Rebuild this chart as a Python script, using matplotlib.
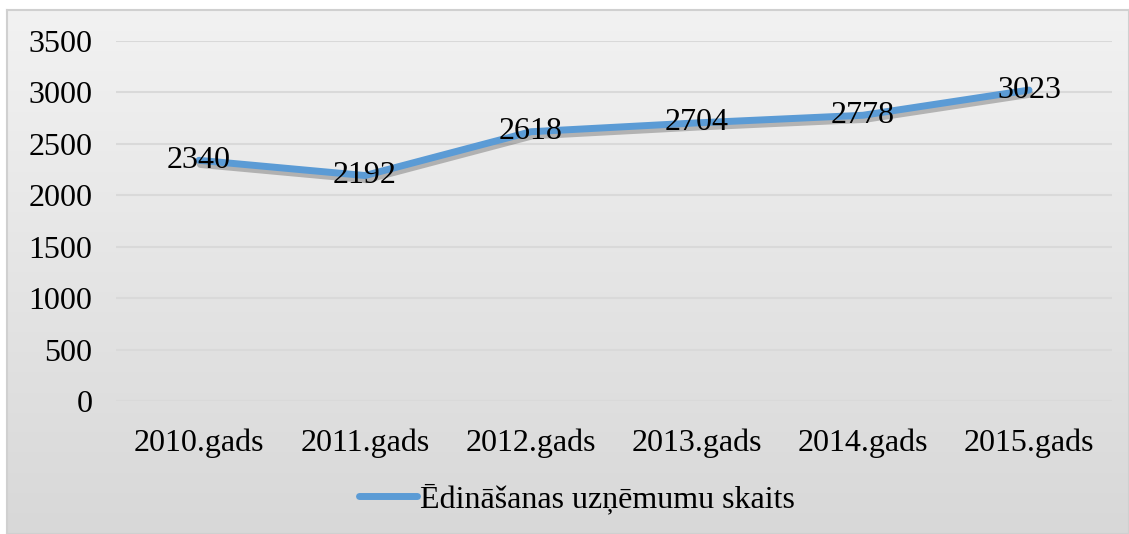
import numpy as np
import matplotlib.pyplot as plt
import matplotlib.patheffects as pe

plt.rcParams['font.family'] = ['Liberation Serif', 'DejaVu Serif']

years = ['2010.gads', '2011.gads', '2012.gads', '2013.gads', '2014.gads', '2015.gads']
counts = [2340, 2192, 2618, 2704, 2778, 3023]
series_name = 'Ēdināšanas uzņēmumu skaits'
yticks = [0, 500, 1000, 1500, 2000, 2500, 3000, 3500]

W, H = 1129, 534
fig = plt.figure(figsize=(W / 100, H / 100), dpi=100)
fig.patch.set_facecolor('white')

# chart area background with vertical gradient
bg = fig.add_axes([7 / W, 0, 1 - 7 / W, 1 - 10 / H])
grad = np.linspace(0, 1, 256).reshape(-1, 1)
bg.imshow(grad, aspect='auto', cmap=plt.matplotlib.colors.LinearSegmentedColormap.from_list(
    'g', ['#f2f2f2', '#d8d8d8']), extent=[0, 1, 0, 1], origin='upper')
bg.set_xlim(0, 1)
bg.set_ylim(0, 1)
bg.set_xticks([])
bg.set_yticks([])
for s in bg.spines.values():
    s.set_color('#d0d0d0')
    s.set_linewidth(1.5)

x0, x1 = 116, 1112
y_top, y_bot = 41, 401
ax = fig.add_axes([x0 / W, 1 - y_bot / H, (x1 - x0) / W, (y_bot - y_top) / H])
ax.patch.set_alpha(0)
x = np.arange(len(years))
line, = ax.plot(x, counts, color='#5b9bd5', lw=5, solid_capstyle='round',
                label=series_name,
                path_effects=[pe.SimpleLineShadow(offset=(1, -3), shadow_color='#303030', alpha=0.3),
                              pe.Normal()])
for xi, v in zip(x, counts):
    ax.text(xi, v, str(v), ha='center', va='center', fontsize=23, color='black')

ax.set_xlim(-0.5, len(years) - 0.5)
ax.set_ylim(0, 3500)
ax.set_yticks(yticks)
ax.set_xticks(x)
ax.set_xticklabels(years)
ax.tick_params(axis='both', length=0, labelsize=23)
ax.tick_params(axis='y', pad=17)
ax.tick_params(axis='x', pad=20)
ax.grid(axis='y', color='#d9d9d9', lw=1.5)
ax.set_axisbelow(True)
for s in ax.spines.values():
    s.set_visible(False)

leg = fig.legend(handles=[line], labels=[series_name], loc='center',
                 bbox_to_anchor=(577 / W, 1 - 499 / H), frameon=False, fontsize=23,
                 handlelength=1.8, handletextpad=0.1)
for h in leg.legend_handles:
    h.set_path_effects([pe.Normal()])

fig.savefig('out.png', dpi=100)
